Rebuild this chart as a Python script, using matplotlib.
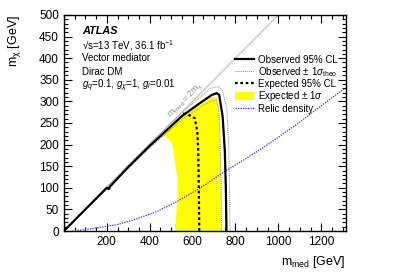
import matplotlib
matplotlib.use("Agg")
import matplotlib.pyplot as plt
from matplotlib.lines import Line2D
from matplotlib.patches import Patch
from matplotlib.ticker import MultipleLocator

plt.rcParams['font.family'] = ['Liberation Sans', 'DejaVu Sans']
plt.rcParams['mathtext.fontset'] = 'custom'
plt.rcParams['mathtext.rm'] = 'Liberation Sans'
plt.rcParams['mathtext.it'] = 'Liberation Sans:italic'
plt.rcParams['mathtext.bf'] = 'Liberation Sans:bold'

# observed 95% CL limit contour (m_med, m_chi) in GeV
obs_mmed = [0, 100, 200, 210, 215, 300, 400, 455, 550, 640, 690, 712, 724, 732, 740, 750, 755, 758]
obs_mchi = [0, 50, 100, 97, 103, 148, 197, 222, 266, 298, 315, 319, 315, 290, 265, 188, 100, 0]

# observed +/- 1 sigma theory
obs_up_mmed = [0, 200, 400, 550, 640, 680, 720, 740, 760, 768, 772, 775]
obs_up_mchi = [0, 102, 202, 274, 312, 330, 334, 325, 280, 200, 100, 0]
obs_dn_mmed = [0, 200, 400, 550, 640, 690, 712, 722, 728, 733, 735]
obs_dn_mchi = [0, 98, 192, 258, 288, 302, 303, 280, 220, 100, 0]

# expected 95% CL
exp_mmed = [556, 585, 610, 622, 626, 629, 631]
exp_mchi = [272, 268, 261, 230, 187, 100, 0]

# expected +/- 1 sigma band outline
band_mmed = [455, 550, 640, 696, 714, 724, 730, 732, 517, 522, 530, 530, 515, 505, 490]
band_mchi = [224, 263, 294, 311, 307, 265, 150, 0, 0, 30, 80, 120, 170, 200, 212]

# relic density line
relic_mmed = [40, 100, 168, 250, 323, 432, 525, 634, 750, 850, 913, 991, 1100, 1200, 1309]
relic_mchi = [0.5, 3, 8.6, 15, 25.5, 44.7, 67.8, 98.8, 138, 168, 188, 214, 252, 290, 330]

# kinematic limit m_med = 2 m_chi
diag_mmed = [0, 1000]
diag_mchi = [0, 500]

fig = plt.figure(figsize=(4.07, 2.77), dpi=100)
ax = fig.add_axes([0.157, 0.166, 0.693, 0.780])

ax.plot(diag_mmed, diag_mchi, color='#c8c8c8', lw=1.0, zorder=1)
ax.fill(band_mmed, band_mchi, color='#ffff00', lw=0, zorder=2)
ax.plot(exp_mmed, exp_mchi, color='black', lw=1.6, ls=(0, (1.2, 1.2)), zorder=4)
ax.plot(obs_up_mmed, obs_up_mchi, color='#888888', lw=0.7, ls=(0, (1, 1)), zorder=3)
ax.plot(obs_dn_mmed, obs_dn_mchi, color='#888888', lw=0.7, ls=(0, (1, 1)), zorder=3)
ax.plot(obs_mmed, obs_mchi, color='black', lw=1.6, zorder=5)
ax.plot(relic_mmed, relic_mchi, color='#3030ff', lw=0.9, ls=(0, (1, 1)), zorder=3)

ax.set_xlim(0, 1315)
ax.set_ylim(0, 500)

ax.xaxis.set_major_locator(MultipleLocator(200))
ax.xaxis.set_minor_locator(MultipleLocator(50))
ax.yaxis.set_major_locator(MultipleLocator(50))
ax.yaxis.set_minor_locator(MultipleLocator(10))
ax.tick_params(which='both', direction='in', top=True, right=True, labelsize=8.5, width=0.8)
ax.tick_params(which='major', length=6)
ax.tick_params(which='minor', length=3)
ax.set_xticks([200, 400, 600, 800, 1000, 1200])
for s in ax.spines.values():
    s.set_linewidth(1.0)

ax.set_xlabel(r'$\mathregular{m_{med}}$ [GeV]', fontsize=9, loc='right')
ax.set_ylabel(r'$\mathregular{m_{\chi}}$ [GeV]', fontsize=9, loc='top')
ax.xaxis.set_label_coords(1.0, -0.105)
ax.yaxis.set_label_coords(-0.145, 1.0)

ax.text(0.064, 0.925, 'ATLAS', transform=ax.transAxes, fontsize=7.8,
        fontweight='bold', fontstyle='italic', va='center')
ax.text(0.064, 0.858, '√s=13 TeV, 36.1 fb$^{-1}$', transform=ax.transAxes,
        fontsize=7, va='center')
ax.text(0.064, 0.80, 'Vector mediator', transform=ax.transAxes, fontsize=7, va='center')
ax.text(0.064, 0.735, 'Dirac DM', transform=ax.transAxes, fontsize=7, va='center')
ax.text(0.064, 0.67, r'$g_q$=0.1, $g_{\chi}$=1, $g_l$=0.01', transform=ax.transAxes,
        fontsize=7, va='center')

ax.text(570, 302, r'$\mathregular{m_{med}=2m_{\chi}}$', color='#909090', fontsize=6.5,
        rotation=45, ha='center', va='center', rotation_mode='anchor')

handles = [
    Line2D([], [], color='black', lw=1.6),
    Line2D([], [], color='#888888', lw=0.7, ls=(0, (1, 1))),
    Line2D([], [], color='black', lw=1.6, ls=(0, (1.2, 1.2))),
    Patch(facecolor='#ffff00', edgecolor='none'),
    Line2D([], [], color='#3030ff', lw=0.9, ls=(0, (1, 1))),
]
labels = ['Observed 95% CL', r'Observed $\pm$ 1$\sigma_{\mathregular{theo}}$',
          'Expected 95% CL', r'Expected $\pm$ 1$\sigma$', 'Relic density']
leg = ax.legend(handles, labels, loc='upper left', bbox_to_anchor=(0.606, 0.815),
                frameon=False, fontsize=7, handlelength=2.0, handletextpad=0.4,
                handleheight=0.9, labelspacing=0.02, borderpad=0.0, borderaxespad=0.0)

fig.savefig('out.png', dpi=100)
